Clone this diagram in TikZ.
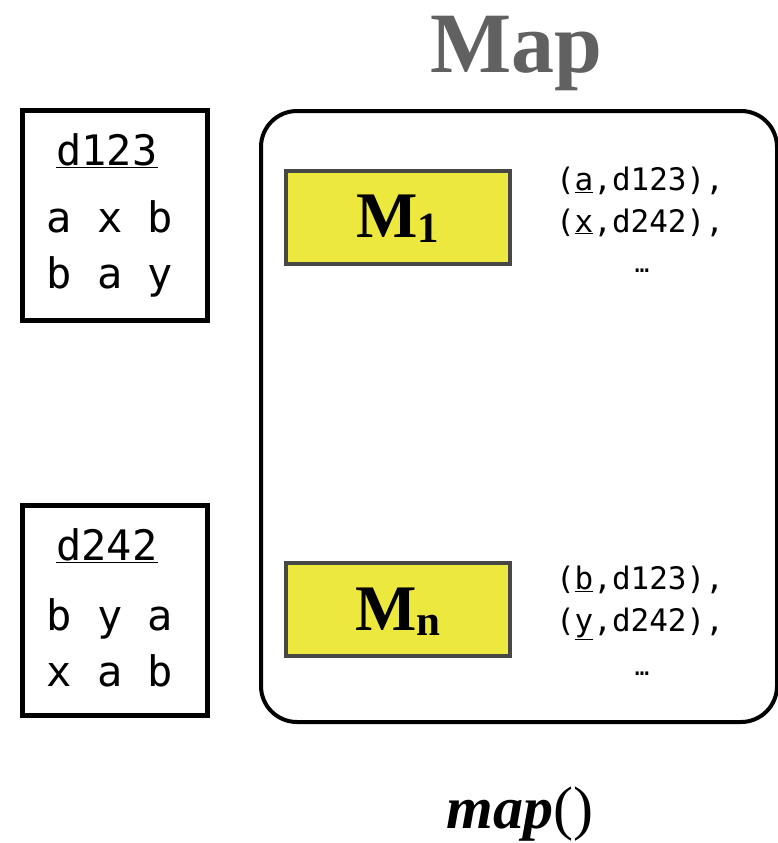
\documentclass[tikz,border=0pt]{standalone}
\usepackage{fontspec}
\setmainfont{Liberation Serif}
\newfontfamily\docfont{DejaVu Sans Mono}
\begin{document}
\begin{tikzpicture}[x=1pt,y=-1pt,
  docbox/.style={draw=black,line width=4.5pt,minimum width=185pt,minimum height=210pt,anchor=north west},
  mbox/.style={draw=black!72,fill=mapyellow,line width=4pt,minimum width=224pt,minimum height=93pt,anchor=north west},
  doctext/.style={font=\docfont\fontsize{42}{50}\selectfont,inner sep=0pt,anchor=base},
  pairtext/.style={font=\docfont\fontsize{31}{40}\selectfont,inner sep=0pt,anchor=base},
  dots/.style={font=\docfont\fontsize{24}{26}\selectfont,inner sep=0pt,anchor=base},
  mlabel/.style={font=\bfseries\fontsize{65}{70}\selectfont,inner sep=0pt,anchor=base}]
\definecolor{mapyellow}{HTML}{EDE83D}
\useasboundingbox (0,0) rectangle (778,843);
% title
\node[font=\bfseries\fontsize{86}{90}\selectfont,text=black!62,inner sep=0pt,anchor=base] (title) at (516,72) {Map};
% document boxes
\node[docbox] (doc1) at (20,108) {};
\node[docbox] (doc2) at (20,503) {};
\node[doctext] (d1name) at (107,165) {\underline{d123}};
\node[doctext] (d1r1) at (110,232) {a x b};
\node[doctext] (d1r2) at (110,288) {b a y};
\node[doctext] (d2name) at (107,560) {\underline{d242}};
\node[doctext] (d2r1) at (110,630) {b y a};
\node[doctext] (d2r2) at (110,686) {x a b};
% map container
\draw[line width=4pt,rounded corners=36pt] (261,111) rectangle (777,722);
% mapper boxes
\node[mbox] (m1) at (284,169) {};
\node[mbox] (mn) at (284,561) {};
\node[mlabel] (m1l) at (398,237) {M\raisebox{-5pt}{\fontsize{43}{46}\selectfont 1}};
\node[mlabel] (mnl) at (398,630) {M\raisebox{-5pt}{\fontsize{43}{46}\selectfont n}};
% emitted pairs
\node[pairtext] (p1a) at (640,190) {(\underline{a},d123),};
\node[pairtext] (p1b) at (640,232) {(\underline{x},d242),};
\node[dots] (p1c) at (642,272) {…};
\node[pairtext] (pna) at (640,589) {(\underline{b},d123),};
\node[pairtext] (pnb) at (640,631) {(\underline{y},d242),};
\node[dots] (pnc) at (642,675) {…};
% caption
\node[font=\bfseries\itshape\fontsize{60}{64}\selectfont,inner sep=0pt,anchor=base] (cap) at (520,828) {map\textup{\mdseries ()}};
\end{tikzpicture}
\end{document}
